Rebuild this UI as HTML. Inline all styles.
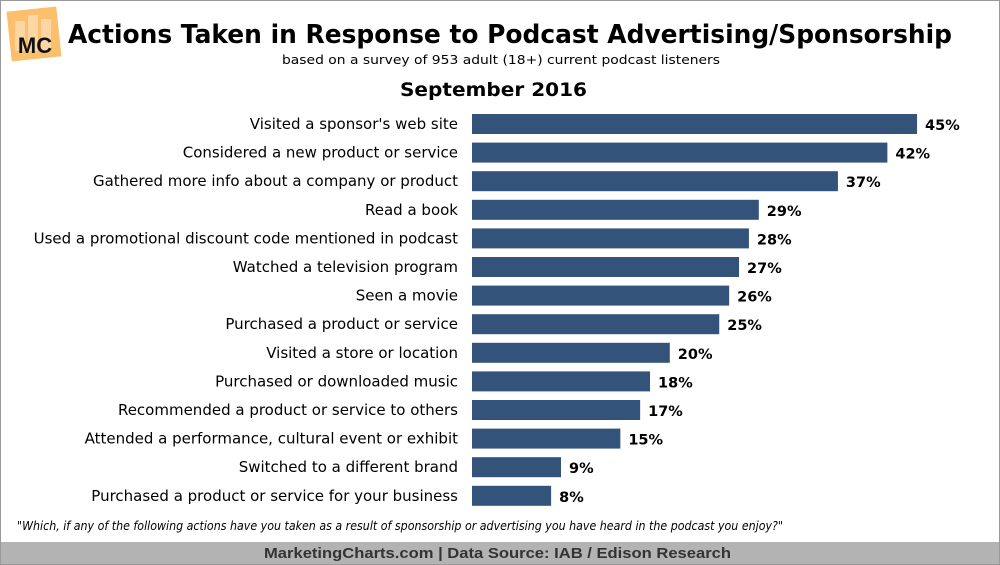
<!DOCTYPE html>
<html><head><meta charset="utf-8"><style>
html,body{margin:0;padding:0;background:#fff;}
#wrap{position:relative;width:998px;height:563px;border:1px solid #999;overflow:hidden;font-family:"DejaVu Sans","Liberation Sans",sans-serif;}
</style></head><body>
<div id="wrap">
<svg width="998" height="563" xmlns="http://www.w3.org/2000/svg" id="svg">
  <g>
    <rect x="8" y="8" width="50" height="50" fill="#fbbf6d" transform="rotate(-6 33 33)"/>
    <rect x="14" y="20" width="10" height="30" fill="#fcd7a4"/>
    <rect x="27" y="14" width="10" height="36" fill="#fcd7a4"/>
    <rect x="40" y="18" width="10" height="32" fill="#fcd7a4"/>
    <text x="34" y="52" text-anchor="middle" font-size="22" font-weight="bold" fill="#111" font-family="Liberation Sans,sans-serif">MC</text>
  </g>
  <text x="67" y="42" font-size="26" font-weight="bold" fill="#000" textLength="884" lengthAdjust="spacingAndGlyphs">Actions Taken in Response to Podcast Advertising/Sponsorship</text>
  <text x="281" y="63" font-size="12.5" fill="#000" textLength="438" lengthAdjust="spacingAndGlyphs">based on a survey of 953 adult (18+) current podcast listeners</text>
  <text x="399" y="95" font-size="19" font-weight="bold" fill="#000" textLength="187" lengthAdjust="spacingAndGlyphs">September 2016</text>
  <g id="bars"></g>
  <text x="16" y="529" font-size="12" font-style="italic" fill="#000" textLength="766" lengthAdjust="spacingAndGlyphs">"Which, if any of the following actions have you taken as a result of sponsorship or advertising you have heard in the podcast you enjoy?"</text>
  <rect x="0" y="541" width="998" height="22" fill="#b3b3b3"/>
  <text x="263" y="557" font-size="15" font-weight="bold" fill="#333" textLength="467" lengthAdjust="spacingAndGlyphs" font-family="Liberation Sans,sans-serif">MarketingCharts.com | Data Source: IAB / Edison Research</text>
</svg>
</div>
<script>
const categories = ["Visited a sponsor's web site","Considered a new product or service","Gathered more info about a company or product","Read a book","Used a promotional discount code mentioned in podcast","Watched a television program","Seen a movie","Purchased a product or service","Visited a store or location","Purchased or downloaded music","Recommended a product or service to others","Attended a performance, cultural event or exhibit","Switched to a different brand","Purchased a product or service for your business"];
const values = [45,42,37,29,28,27,26,25,20,18,17,15,9,8];
const x0 = 471, pxPer = 9.89;
const xScale = v => x0 + v * pxPer;
const yCenter = i => 123 + i * 28.6;
const g = document.getElementById('bars');
const NS = 'http://www.w3.org/2000/svg';
values.forEach((v, i) => {
  const r = document.createElementNS(NS, 'rect');
  r.setAttribute('x', x0);
  r.setAttribute('y', yCenter(i) - 10);
  r.setAttribute('width', xScale(v) - x0);
  r.setAttribute('height', 20);
  r.setAttribute('fill', '#34537b');
  
  
  g.appendChild(r);
  const l = document.createElementNS(NS, 'text');
  l.setAttribute('x', 457);
  l.setAttribute('y', yCenter(i) + 5);
  l.setAttribute('text-anchor', 'end');
  l.setAttribute('font-size', '15');
  l.textContent = categories[i];
  
  
  g.appendChild(l);
  const t = document.createElementNS(NS, 'text');
  t.setAttribute('x', xScale(v) + 8);
  t.setAttribute('y', yCenter(i) + 6);
  t.setAttribute('font-size', '14.5');
  t.setAttribute('font-weight', 'bold');
  t.textContent = v + '%';
  
  
  g.appendChild(t);
});
</script>
</body></html>
